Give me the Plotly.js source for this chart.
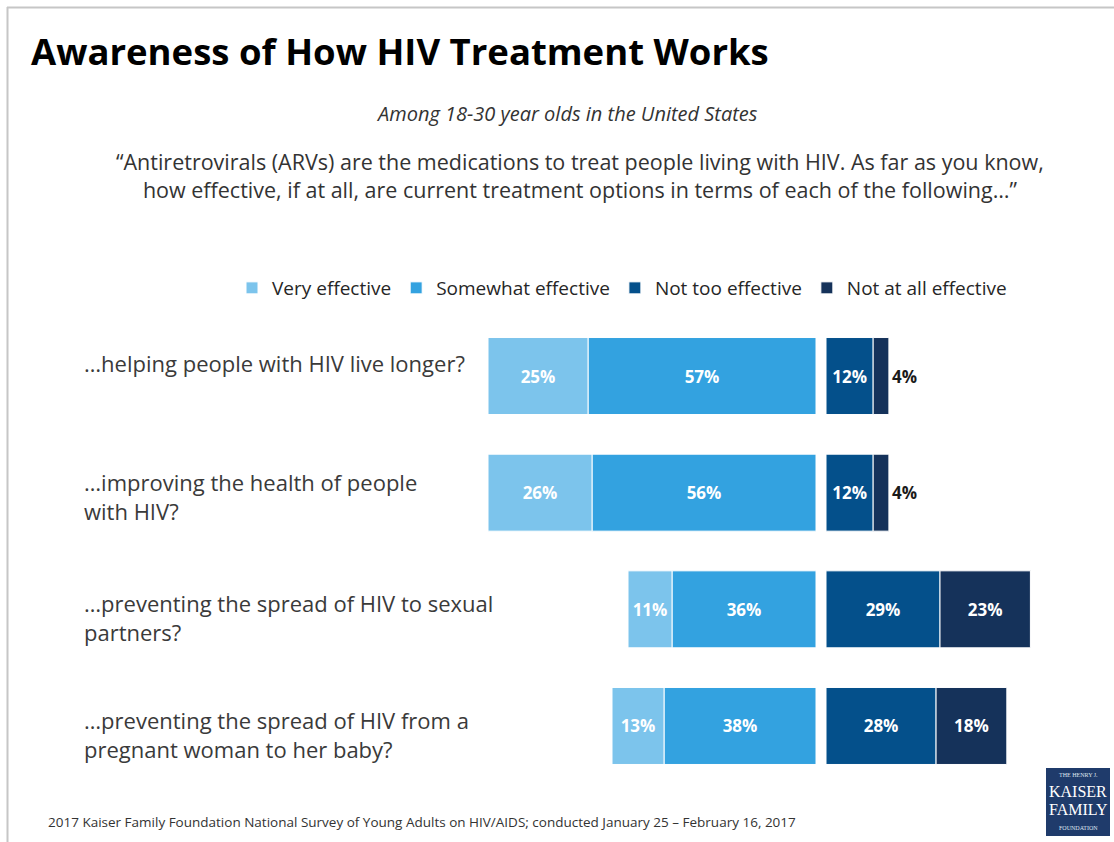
<!DOCTYPE html>
<html>
<head>
<meta charset="utf-8">
<script src="https://cdn.plot.ly/plotly-3.0.1.min.js"></script>
<style>html,body{margin:0;padding:0;background:#fff;}#chart{width:1114px;height:842px;}</style>
</head>
<body>
<div id="chart"></div>
<script>
const categories = [
  "…helping people with HIV live longer?",
  "…improving the health of people<br>with HIV?",
  "…preventing the spread of HIV to sexual<br>partners?",
  "…preventing the spread of HIV from a<br>pregnant woman to her baby?"
];
const veryEffective = [25, 26, 11, 13];
const somewhatEffective = [57, 56, 36, 38];
const notTooEffective = [12, 12, 29, 28];
const notAtAllEffective = [4, 4, 23, 18];
const seriesNames = ["Very effective", "Somewhat effective", "Not too effective", "Not at all effective"];
const titleText = "Awareness of How HIV Treatment Works";
const subtitleText = "Among 18-30 year olds in the United States";
const questionText = "“Antiretrovirals (ARVs) are the medications to treat people living with HIV. As far as you know,<br>how effective, if at all, are current treatment options in terms of each of the following…”";
const sourceText = "2017 Kaiser Family Foundation National Survey of Young Adults on HIV/AIDS; conducted January 25 – February 16, 2017";

const W = 1114, H = 842;
const px = v => v / W;
const py = v => 1 - v / H;

const colors = ["#7cc4ec", "#33a2e0", "#04508b", "#15325a"];
const bodyFont = "'Open Sans', Lato, sans-serif";
const lblFont = {family: bodyFont, size: 17, color: "#ffffff", weight: "bold"};

function bar(name, vals, color, xaxis, rank, positions) {
  return {
    type: "bar", orientation: "h", name: name,
    y: categories, x: vals, xaxis: xaxis, yaxis: "y",
    marker: {color: color, line: {color: "#ffffff", width: 1}},
    text: vals.map(v => v + "%"),
    textposition: positions || "inside",
    insidetextanchor: "middle",
    textangle: 0,
    insidetextfont: lblFont,
    outsidetextfont: {family: bodyFont, size: 17, color: "#1a1a1a", weight: "bold"},
    cliponaxis: false,
    legendrank: rank,
    hoverinfo: "skip"
  };
}

const data = [
  bar(seriesNames[1], somewhatEffective, colors[1], "x", 2),
  bar(seriesNames[0], veryEffective, colors[0], "x", 1),
  bar(seriesNames[2], notTooEffective, colors[2], "x2", 3),
  bar(seriesNames[3], notAtAllEffective, colors[3], "x2", 4,
      notAtAllEffective.map(v => v < 8 ? "outside" : "inside"))
];

const labelShift = [30, 28, 23, 23];
const annotations = categories.map((c, i) => ({
  xref: "paper", yref: "y", x: px(82), y: c, xanchor: "left", yanchor: "top",
  yshift: labelShift[i], text: c, showarrow: false, align: "left",
  font: {family: bodyFont, size: 22, color: "#3a3a3a"}
}));
annotations.push(
  {xref: "paper", yref: "paper", x: px(567), y: py(113), xanchor: "center", yanchor: "middle",
   text: "<i>" + subtitleText + "</i>", showarrow: false,
   font: {family: bodyFont, size: 20, color: "#333333"}},
  {xref: "paper", yref: "paper", x: px(580), y: py(175), xanchor: "center", yanchor: "middle",
   text: questionText, showarrow: false, align: "center",
   font: {family: bodyFont, size: 21.5, color: "#333333"}},
  {xref: "paper", yref: "paper", x: px(46), y: py(822), xanchor: "left", yanchor: "middle",
   text: sourceText, showarrow: false,
   font: {family: bodyFont, size: 13.5, color: "#333333"}},
  {xref: "paper", yref: "paper", x: px(1078), y: py(775), xanchor: "center", yanchor: "middle",
   text: "THE HENRY J.", showarrow: false,
   font: {family: "'Liberation Serif', serif", size: 6, color: "#dfe6f0"}},
  {xref: "paper", yref: "paper", x: px(1078), y: py(791), xanchor: "center", yanchor: "middle",
   text: "KAISER", showarrow: false,
   font: {family: "'Liberation Serif', serif", size: 16, color: "#ffffff"}},
  {xref: "paper", yref: "paper", x: px(1078), y: py(809), xanchor: "center", yanchor: "middle",
   text: "FAMILY", showarrow: false,
   font: {family: "'Liberation Serif', serif", size: 16, color: "#ffffff"}},
  {xref: "paper", yref: "paper", x: px(1078), y: py(828), xanchor: "center", yanchor: "middle",
   text: "FOUNDATION", showarrow: false,
   font: {family: "'Liberation Serif', serif", size: 6, color: "#dfe6f0"}}
);

const layout = {
  width: W, height: H,
  margin: {l: 0, r: 0, t: 0, b: 0},
  paper_bgcolor: "#ffffff", plot_bgcolor: "rgba(0,0,0,0)",
  barmode: "relative", bargap: 0.34,
  showlegend: true,
  title: {text: "<b>" + titleText + "</b>", x: px(31), xanchor: "left", xref: "paper",
          y: py(52), yanchor: "middle", yref: "paper",
          font: {family: bodyFont, size: 36.5, color: "#000000"}},
  legend: {orientation: "h", x: px(232), xanchor: "left", y: py(288), yanchor: "middle",
           font: {family: bodyFont, size: 19, color: "#262626"}, traceorder: "normal",
           itemwidth: 30, bgcolor: "rgba(0,0,0,0)"},
  xaxis: {domain: [px(416), px(816)], range: [100, 0], showticklabels: false, showgrid: false,
          zeroline: false, fixedrange: true},
  xaxis2: {domain: [px(826), px(1100)], range: [0, 69.7], showticklabels: false, showgrid: false,
           zeroline: false, anchor: "y", fixedrange: true},
  yaxis: {domain: [1 - 784.3 / H, 1 - 317.7 / H], type: "category", categoryarray: categories,
          autorange: "reversed", showticklabels: false, showgrid: false, zeroline: false, fixedrange: true},
  annotations: annotations,
  shapes: [
    {type: "line", xref: "paper", yref: "paper", x0: px(7), x1: 1, y0: py(7.5), y1: py(7.5),
     line: {color: "#c6c6c6", width: 2}},
    {type: "line", xref: "paper", yref: "paper", x0: px(7.5), x1: px(7.5), y0: py(7), y1: 0,
     line: {color: "#c6c6c6", width: 2}},
    {type: "rect", xref: "paper", yref: "paper", x0: px(1046), x1: px(1110), y0: py(836), y1: py(768),
     fillcolor: "#1f3b6b", line: {width: 0}, layer: "below"}
  ]
};

Plotly.newPlot("chart", data, layout, {displayModeBar: false, staticPlot: true});
</script>
</body>
</html>
